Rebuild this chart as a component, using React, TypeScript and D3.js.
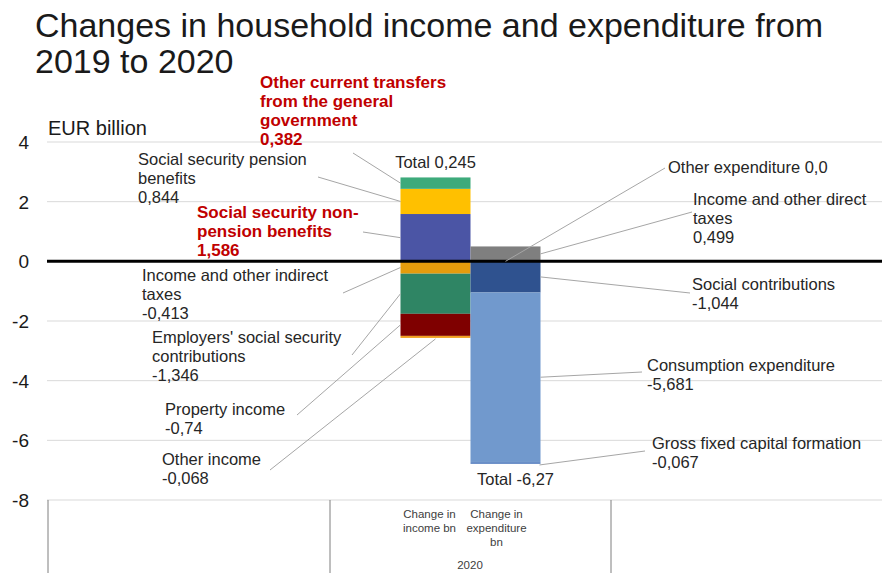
import React from "react";
import * as d3 from "d3";

// ---------- data ----------
const categories = ["income", "expenditure"];
const categoryLabels = [["Change in", "income bn"], ["Change in", "expenditure", "bn"]];
const groupLabel = "2020";

const seriesKeys = [
  "nonPension", "pension", "otherTransfers",
  "indirectTaxes", "employers", "property", "otherIncome",
  "directTaxes", "otherExpenditure", "socialContributions", "consumption", "gfcf",
];
const seriesNames = [
  "Social security non-\npension benefits",
  "Social security pension\nbenefits",
  "Other current transfers\nfrom the general\ngovernment",
  "Income and other indirect\ntaxes",
  "Employers' social security\ncontributions",
  "Property income",
  "Other income",
  "Income and other direct\ntaxes",
  "Other expenditure",
  "Social contributions",
  "Consumption expenditure",
  "Gross fixed capital formation",
];
const seriesCategory = [0, 0, 0, 0, 0, 0, 0, 1, 1, 1, 1, 1];
const seriesValues = [1.586, 0.844, 0.382, -0.413, -1.346, -0.74, -0.068, 0.499, 0.0, -1.044, -5.681, -0.067];
const totals = [0.245, -6.27];
const yTicks = [4, 2, 0, -2, -4, -6, -8];

// ---------- styles / layout ----------
const W = 882, H = 573;
const colors = [
  "#4B55A5", "#FFC000", "#3DAA7B",
  "#E59C0C", "#2F8564", "#7F0000", "#F0A020",
  "#7F7F7F", "#A5A5A5", "#2F528F", "#7199CD", "#6A8FC8",
];
const highlighted = [true, false, true, false, false, false, false, false, false, false, false, false];
// label layout: text x, first baseline y, leader start (lx, ly), attach mode, inline value
const labelLayout = [
  { x: 197, y: 218, lx: 363, ly: 232, attach: "left" },
  { x: 138, y: 165, lx: 318, ly: 177, attach: "left" },
  { x: 260, y: 88, lx: 353, ly: 153, attach: "left" },
  { x: 142, y: 281, lx: 343, ly: 293, attach: "left" },
  { x: 152, y: 343, lx: 352, ly: 355, attach: "left" },
  { x: 165, y: 415, lx: 297, ly: 415, attach: "left" },
  { x: 162, y: 465, lx: 270, ly: 470, attach: "bottom" },
  { x: 693, y: 205, lx: 692, ly: 212, attach: "right" },
  { x: 668, y: 173, lx: 665, ly: 168, attach: "top", inline: true },
  { x: 692, y: 290, lx: 690, ly: 293, attach: "right" },
  { x: 647, y: 371, lx: 642, ly: 372, attach: "right" },
  { x: 652, y: 449, lx: 645, ly: 451, attach: "rightBottom" },
];

const fmt = (v: number) => (v === 0 ? "0,0" : String(v).replace(".", ","));
const FONT = "'Liberation Sans', Arial, Helvetica, sans-serif";
const NARROW = "'Liberation Sans Narrow', 'Arial Narrow', 'Liberation Sans', Arial, sans-serif";

export default function App() {
  const plotLeft = 47, plotRight = W;
  const y = d3.scaleLinear().domain([-8, 4]).range([500, 142]);
  const x = d3.scaleBand().domain(categories).range([330, 611]).paddingInner(0).paddingOuter(1.007);

  const table = categories.map((c, ci) => {
    const row: any = { category: c };
    seriesKeys.forEach((k, i) => (row[k] = seriesCategory[i] === ci ? seriesValues[i] : 0));
    return row;
  });
  const stacked = d3.stack().keys(seriesKeys).offset(d3.stackOffsetDiverging)(table);

  const segs = seriesKeys.map((k, i) => {
    const ci = seriesCategory[i];
    const d = stacked[i][ci];
    const y0 = y(Math.max(d[0], d[1]));
    const y1 = y(Math.min(d[0], d[1]));
    const x0 = x(categories[ci])!;
    return { i, x0, x1: x0 + x.bandwidth(), yTop: y0, yBot: y1 };
  });

  const lineH = 19;

  return (
    <svg width={W} height={H} style={{ position: "absolute", left: 0, top: 0, background: "#fff" }} fontFamily={FONT}>
      {/* title */}
      <text x={35} y={37} fontSize={34} fill="#1a1a1a">Changes in household income and expenditure from</text>
      <text x={35} y={73} fontSize={34} fill="#1a1a1a">2019 to 2020</text>
      <text x={48} y={135} fontSize={20} fill="#1a1a1a">EUR billion</text>

      {/* gridlines */}
      {yTicks.filter((t) => t !== 0).map((t) => (
        <line key={t} x1={plotLeft} x2={plotRight} y1={y(t)} y2={y(t)} stroke="#D9D9D9" strokeWidth={1} />
      ))}
      {yTicks.map((t) => (
        <text key={"l" + t} x={29} y={y(t) + 7} fontSize={19} textAnchor="end" fill="#1a1a1a">{t}</text>
      ))}

      {/* bars */}
      {segs.map((s) => (
        <rect key={s.i} x={s.x0} y={s.yTop} width={s.x1 - s.x0} height={Math.max(0, s.yBot - s.yTop)} fill={colors[s.i]} />
      ))}

      {/* zero line */}
      <line x1={plotLeft} x2={plotRight} y1={y(0)} y2={y(0)} stroke="#000" strokeWidth={3} />

      {/* leader lines and labels */}
      {segs.map((s) => {
        const L = labelLayout[s.i];
        const mid = (s.yTop + s.yBot) / 2;
        const cx = (s.x0 + s.x1) / 2;
        let ex = s.x0, ey = mid;
        if (L.attach === "right") { ex = s.x1; }
        if (L.attach === "bottom") { ex = cx; ey = s.yBot + 1; }
        if (L.attach === "top") { ex = cx; ey = s.yTop; }
        if (L.attach === "rightBottom") { ex = s.x1 - 1; ey = s.yBot + 1; }
        const hl = highlighted[s.i];
        const lines = seriesNames[s.i].split("\n");
        const all = L.inline
          ? [lines[0] + " " + fmt(seriesValues[s.i])]
          : [...lines, fmt(seriesValues[s.i])];
        return (
          <g key={"lab" + s.i}>
            <line x1={L.lx} y1={L.ly} x2={ex} y2={ey} stroke="#A6A6A6" strokeWidth={1} />
            <text x={L.x} y={L.y} fontSize={hl ? 17 : 16.5} fontWeight={hl ? "bold" : "normal"} fill={hl ? "#C00000" : "#262626"}>
              {all.map((t, j) => (
                <tspan key={j} x={L.x} y={L.y + j * lineH}>{t}</tspan>
              ))}
            </text>
          </g>
        );
      })}

      {/* totals */}
      <text x={x(categories[0])! + x.bandwidth() / 2} y={168} fontSize={16.5} textAnchor="middle" fill="#262626">
        {"Total " + fmt(totals[0])}
      </text>
      <text x={x(categories[1])! + x.bandwidth() / 2 + 10} y={485} fontSize={16.5} textAnchor="middle" fill="#262626">
        {"Total " + fmt(totals[1])}
      </text>

      {/* category axis */}
      {[48, 330, 611].map((vx) => (
        <line key={vx} x1={vx} x2={vx} y1={y(-8)} y2={H} stroke="#7F7F7F" strokeWidth={1} />
      ))}
      {categories.map((c, ci) => (
        <text key={c} fontSize={11.5} fontFamily={NARROW} textAnchor="middle" fill="#404040">
          {categoryLabels[ci].map((t, j) => (
            <tspan key={j} x={x(c)! + x.bandwidth() / 2 - 6 - ci * 3} y={518 + j * 14}>{t}</tspan>
          ))}
        </text>
      ))}
      <text x={470} y={569} fontSize={11.5} fontFamily={NARROW} textAnchor="middle" fill="#404040">{groupLabel}</text>
    </svg>
  );
}
